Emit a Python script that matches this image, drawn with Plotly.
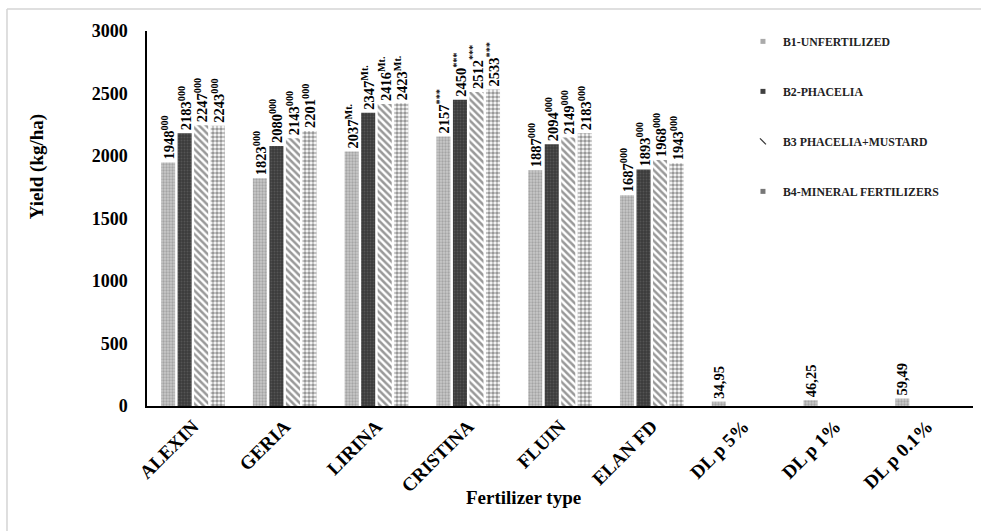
import plotly.graph_objects as go

categories = ["ALEXIN", "GERIA", "LIRINA", "CRISTINA", "FLUIN", "ELAN FD",
              "DL p 5%", "DL p 1%", "DL p 0.1%"]
series_names = ["B1-UNFERTILIZED", "B2-PHACELIA", "B3 PHACELIA+MUSTARD", "B4-MINERAL FERTILIZERS"]
b1 = [1948, 1823, 2037, 2157, 1887, 1687, 34.95, 46.25, 59.49]
b2 = [2183, 2080, 2347, 2450, 2094, 1893, None, None, None]
b3 = [2247, 2143, 2416, 2512, 2149, 1968, None, None, None]
b4 = [2243, 2201, 2423, 2533, 2183, 1943, None, None, None]
significance = ["000", "000", "Mt.", "***", "000", "000", "", "", ""]
y_ticks = [0, 500, 1000, 1500, 2000, 2500, 3000]

FONT = "Liberation Serif"

def fmt(v, sig):
    if v is None:
        return ""
    if float(v).is_integer():
        s = str(int(v))
    else:
        s = ("%.2f" % v).replace(".", ",")
    if sig:
        s += "<sup>" + sig + "</sup>"
    return s

patterns = [
    dict(shape=".", bgcolor="#c8c8c8", fgcolor="#808080", size=3, solidity=0.45),
    dict(shape=".", bgcolor="#3a3a3a", fgcolor="#6e6e6e", size=3, solidity=0.35),
    dict(shape="\\", bgcolor="#ffffff", fgcolor="#333333", size=5, solidity=0.5),
    dict(shape=".", bgcolor="#ffffff", fgcolor="#333333", size=4, solidity=0.65),
]
legend_markers = [
    dict(symbol="square", size=5, color="#aaaaaa"),
    dict(symbol="square", size=5, color="#404040"),
    dict(symbol="line-nw", size=6, color="#333333", line=dict(width=1.2, color="#333333")),
    dict(symbol="square", size=5, color="#777777"),
]

fig = go.Figure()
for i, (name, vals) in enumerate(zip(series_names, [b1, b2, b3, b4])):
    fig.add_trace(go.Bar(
        x=categories, y=vals, name=name, showlegend=False,
        marker=dict(pattern=patterns[i], line=dict(width=0)),
        text=[fmt(v, s) for v, s in zip(vals, significance)],
        textposition="outside", textangle=-90, constraintext="none",
        cliponaxis=False,
        textfont=dict(family=FONT, size=14.5, color="black", weight="bold"),
    ))
for i, name in enumerate(series_names):
    fig.add_trace(go.Scatter(
        x=[None], y=[None], mode="markers", name=name,
        marker=legend_markers[i], legendgroup="g%d" % i,
    ))

fig.update_layout(
    width=981, height=531,
    margin=dict(l=147, r=8, t=31, b=125),
    paper_bgcolor="white", plot_bgcolor="white",
    barmode="group", bargap=0.28, bargroupgap=0.15,
    font=dict(family=FONT, color="black"),
    showlegend=True,
    legend=dict(x=0.7215, y=1.011, xanchor="left", yanchor="top",
                font=dict(family=FONT, size=11.8, color="#222", weight="bold"),
                tracegroupgap=31, itemwidth=30, bgcolor="rgba(0,0,0,0)"),
    xaxis=dict(showline=True, linecolor="black", linewidth=1.5,
               tickangle=-45, ticks="", showgrid=False,
               range=[-0.5, 8.5],
               tickfont=dict(family=FONT, size=19, color="black", weight="bold")),
    yaxis=dict(showline=True, linecolor="black", linewidth=1.5,
               range=[0, 3000], tickvals=y_ticks, ticks="", showgrid=False,
               zeroline=False, ticklabelstandoff=14,
               tickfont=dict(family=FONT, size=18, color="black", weight="bold")),
    annotations=[
        dict(text="Yield (kg/ha)", xref="paper", yref="paper", x=-0.133, y=0.637,
             xanchor="center", yanchor="middle",
             textangle=-90, showarrow=False,
             font=dict(family=FONT, size=19, color="black", weight="bold")),
        dict(text="Fertilizer type", xref="paper", yref="paper", x=0.456, y=-0.243,
             xanchor="center", yanchor="middle",
             showarrow=False,
             font=dict(family=FONT, size=19, color="black", weight="bold")),
    ],
    shapes=[
        dict(type="line", xref="paper", yref="paper", x0=-0.1695, x1=1.02,
             y0=1.0587, y1=1.0587, line=dict(color="#d4d4d4", width=1.5)),
        dict(type="line", xref="paper", yref="paper", x0=-0.1695, x1=-0.1695,
             y0=1.0587, y1=-0.35, line=dict(color="#d4d4d4", width=1.5)),
    ],
)

fig.write_html("out.html")
